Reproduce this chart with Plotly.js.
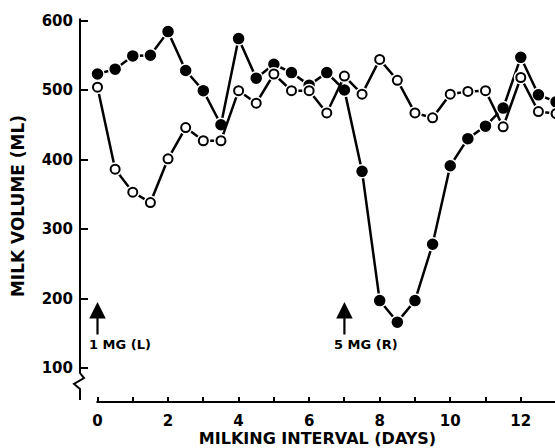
<!DOCTYPE html>
<html>
<head>
<meta charset="utf-8">
<script src="https://cdn.plot.ly/plotly-3.0.1.min.js"></script>
<style>html,body{margin:0;padding:0;background:#fff;}#chart{width:555px;height:448px;}</style>
</head>
<body>
<div id="chart"></div>
<script>
// Milking interval (days)
var days = [0, 0.5, 1, 1.5, 2, 2.5, 3, 3.5, 4, 4.5, 5, 5.5, 6, 6.5, 7, 7.5, 8, 8.5, 9, 9.5, 10, 10.5, 11, 11.5, 12, 12.5, 13];
// Filled circles (right side, 5 mg)
var filledVolume = [523, 530, 549, 550, 584, 528, 499, 450, 574, 517, 537, 525, 507, 525, 500, 383, 197, 166, 197, 278, 391, 430, 448, 474, 547, 493, 483];
// Open circles (left side, 1 mg)
var openVolume = [504, 386, 353, 338, 401, 446, 427, 427, 499, 481, 523, 499, 499, 467, 520, 494, 544, 514, 467, 460, 494, 498, 499, 447, 518, 469, 466];

var xTickVals = [0, 2, 4, 6, 8, 10, 12];
var xTickText = ['0', '2', '4', '6', '8', '10', '12'];
var xMinorVals = [1, 3, 5, 7, 9, 11, 13];
var yTickVals = [100, 200, 300, 400, 500, 600];
var yTickText = ['100', '200', '300', '400', '500', '600'];

var doses = [
  {label: '1 MG (L)', day: 0, textDay: -0.3},
  {label: '5 MG (R)', day: 7, textDay: 6.66}
];

var FONT = 'DejaVu Sans, Arial, sans-serif';

var traces = [
  {
    x: days, y: filledVolume, mode: 'lines+markers', type: 'scatter',
    line: {color: '#000', width: 2.5},
    marker: {symbol: 'circle', size: 13, color: '#000', line: {color: '#fff', width: 1.5}},
    hoverinfo: 'skip'
  },
  {
    x: days, y: openVolume, mode: 'lines', type: 'scatter',
    line: {color: '#000', width: 2.5}, hoverinfo: 'skip'
  },
  {
    x: days, y: openVolume, mode: 'markers', type: 'scatter',
    marker: {symbol: 'circle', size: 14, color: '#fff'}, hoverinfo: 'skip'
  },
  {
    x: days, y: openVolume, mode: 'markers', type: 'scatter',
    marker: {symbol: 'circle', size: 9, color: '#fff', line: {color: '#000', width: 2}},
    hoverinfo: 'skip'
  }
];

var annotations = [];
doses.forEach(function (d) {
  annotations.push({
    x: d.day, y: 195, ax: d.day, ay: 146, xref: 'x', yref: 'y', axref: 'x', ayref: 'y',
    text: '', showarrow: true, arrowhead: 2, arrowsize: 1.5, arrowwidth: 2.2, arrowcolor: '#000'
  });
  annotations.push({
    x: d.textDay, y: 134, xref: 'x', yref: 'y', xanchor: 'left', yanchor: 'middle',
    text: d.label, showarrow: false,
    font: {family: FONT, size: 13, color: '#000', weight: 'bold'}
  });
});

var layout = {
  width: 555, height: 448,
  margin: {l: 80, r: 0, t: 10, b: 46},
  paper_bgcolor: '#fff', plot_bgcolor: '#fff',
  showlegend: false,
  xaxis: {
    range: [-0.496, 12.97],
    showline: false, zeroline: false, showgrid: false,
    ticks: 'inside', ticklen: 5, tickwidth: 2, tickcolor: '#000',
    tickvals: xTickVals, ticktext: xTickText,
    minor: {tickvals: xMinorVals, ticks: 'inside', ticklen: 5, tickwidth: 2, tickcolor: '#000'},
    ticklabelstandoff: 8,
    tickfont: {family: FONT, size: 15, color: '#000', weight: 'bold'},
    title: {text: 'MILKING INTERVAL (DAYS)', font: {family: FONT, size: 16, color: '#000', weight: 'bold'}, standoff: 1}
  },
  yaxis: {
    range: [51.1, 615.1],
    showline: false, zeroline: false, showgrid: false,
    ticks: 'inside', ticklen: 8, tickwidth: 2, tickcolor: '#000',
    tickvals: yTickVals, ticktext: yTickText,
    ticklabelstandoff: 6,
    tickfont: {family: FONT, size: 15, color: '#000', weight: 'bold'},
    title: {text: 'MILK VOLUME (ML)', font: {family: FONT, size: 17, color: '#000', weight: 'bold'}, standoff: 12}
  },
  shapes: [
    {type: 'line', xref: 'x', yref: 'paper', x0: -0.03, x1: 13.5, y0: 0, y1: 0, line: {color: '#000', width: 2}},
    {type: 'path', xref: 'paper', yref: 'y',
     path: 'M0,603 L0,92.8 L0.0084,85.6 L-0.0126,77 L0,69.8 L0,53.9',
     line: {color: '#000', width: 2}}
  ],
  annotations: annotations
};

Plotly.newPlot('chart', traces, layout, {displayModeBar: false, staticPlot: true});
</script>
</body>
</html>
